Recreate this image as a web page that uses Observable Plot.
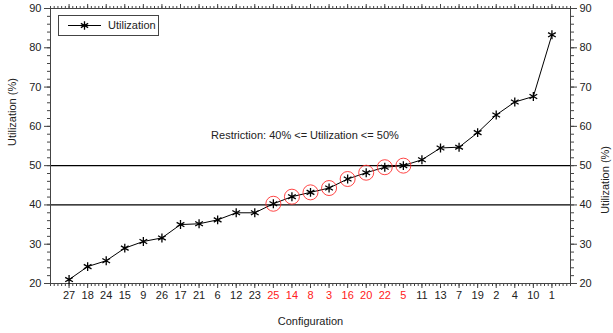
<!DOCTYPE html>
<html><head><meta charset="utf-8">
<script src="https://cdn.jsdelivr.net/npm/d3@7"></script>
<script src="https://cdn.jsdelivr.net/npm/@observablehq/plot@0.6"></script>
<style>
body{margin:0;background:#fff;font-family:"Liberation Sans",Arial,sans-serif;}
#wrap{position:relative;width:613px;height:333px;}
#legend{position:absolute;left:58px;top:15px;width:99px;height:19px;border:1px solid #444;background:#fff;font-size:11px;color:#222;}
#legend svg{position:absolute;left:0;top:0;}
#legend span{position:absolute;left:49px;top:3px;}
</style></head><body><div id="wrap"><div id="legend"><svg width="45" height="19"></svg><span>Utilization</span></div></div>
<script>
const configurations = ["27","18","24","15","9","26","17","21","6","12","23","25","14","8","3","16","20","22","5","11","13","7","19","2","4","10","1"];
const utilization = [21.0,24.3,25.8,29.0,30.7,31.6,35.0,35.2,36.2,38.0,38.0,40.3,42.1,43.2,44.3,46.6,48.2,49.6,50.0,51.5,54.5,54.7,58.4,62.9,66.2,67.6,83.3];
const restrictionBounds = [40, 50];
const yTicks = [20,30,40,50,60,70,80,90];
const seriesName = "Utilization";
const annotationText = "Restriction: 40% <= Utilization <= 50%";

const data = configurations.map((c,i)=>({config:c, pos:i+1, u:utilization[i],
  inRange: utilization[i] >= restrictionBounds[0] && utilization[i] <= restrictionBounds[1]}));
const font = '"Liberation Sans", Arial, sans-serif';
const ink = "#222";

const chart = Plot.plot({
  width:613, height:333, marginLeft:50, marginRight:43, marginTop:8, marginBottom:50,
  style:{fontFamily:font, fontSize:"11px", color:ink, background:"white"},
  x:{domain:[0, configurations.length+1]},
  y:{domain:[20,90]},
  marks:[
    Plot.ruleY(restrictionBounds,{stroke:"black", strokeWidth:1.3}),
    Plot.axisX({anchor:"bottom", ticks:d3.range(0, configurations.length+1.001, 0.2), tickSize:3, text:null, label:null, stroke:"#444"}),
    Plot.axisX({anchor:"bottom", ticks:d3.range(1, configurations.length+1), tickSize:5, text:null, label:null, stroke:"#444"}),
    Plot.axisX({anchor:"top", ticks:d3.range(0, configurations.length+1.001, 0.2), tickSize:3, text:null, label:null, stroke:"#444"}),
    Plot.axisX({anchor:"top", ticks:d3.range(1, configurations.length+1), tickSize:5, text:null, label:null, stroke:"#444"}),
    Plot.axisY({anchor:"left", ticks:d3.range(20,90.001,2), tickSize:3, text:null, label:null, stroke:"#444"}),
    Plot.axisY({anchor:"left", ticks:yTicks, tickSize:6, tickPadding:3, label:null, stroke:"#444"}),
    Plot.axisY({anchor:"right", ticks:d3.range(20,90.001,2), tickSize:3, text:null, label:null, stroke:"#444"}),
    Plot.axisY({anchor:"right", ticks:yTicks, tickSize:6, tickPadding:3, label:null, stroke:"#444"}),
    Plot.frame({stroke:"#444"}),
    Plot.text(data, {x:"pos", text:"config", frameAnchor:"bottom", dy:15, fill:d=>d.inRange?"#ff2020":ink}),
    Plot.text(["Utilization (%)"], {frameAnchor:"left", rotate:-90, dx:-38, fill:ink}),
    Plot.text(["Utilization (%)"], {frameAnchor:"right", rotate:-90, dx:35, fill:ink}),
    Plot.text(["Configuration"], {frameAnchor:"bottom", dy:41, fill:ink}),
    Plot.text([annotationText], {x:13.7, y:57.7, fill:ink}),
    Plot.line(data, {x:"pos", y:"u", stroke:"black", strokeWidth:1}),
    Plot.dot(data.filter(d=>d.inRange), {x:"pos", y:"u", r:7.5, stroke:"#ff3030", strokeWidth:0.9}),
    Plot.dot(data, {x:"pos", y:"u", symbol:"asterisk", r:4.2, stroke:"black", strokeWidth:1.3})
  ]
});
document.getElementById("wrap").prepend(chart);

// legend sample
const lsvg = d3.select("#legend svg");
lsvg.append("line").attr("x1",9).attr("x2",42).attr("y1",9.5).attr("y2",9.5).attr("stroke","black");
lsvg.append("path").attr("transform","translate(25.5,9.5)").attr("d", d3.symbol(d3.symbolAsterisk, 50)()).attr("stroke","black").attr("stroke-width",1.3);
document.querySelector("#legend span").textContent = seriesName;
</script>
</body></html>
